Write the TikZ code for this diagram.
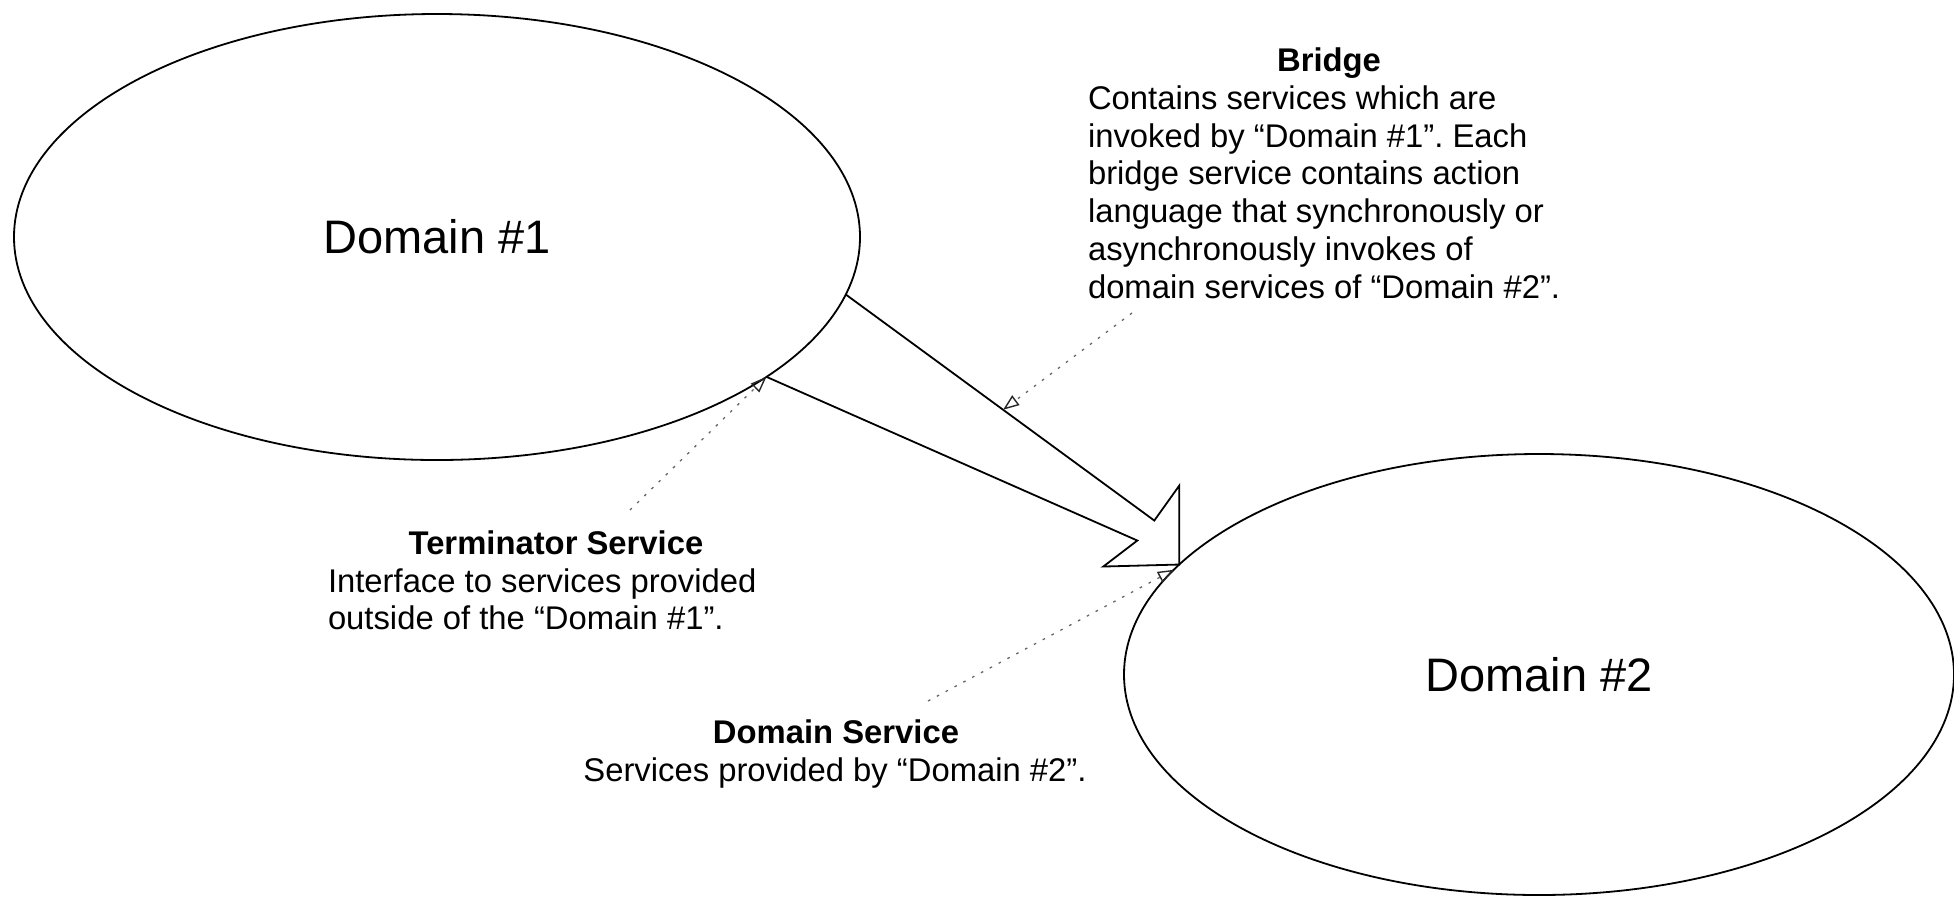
\documentclass[tikz,border=0pt]{standalone}
\usepackage{fontspec}
\setmainfont{Liberation Sans}
\usetikzlibrary{shapes.geometric,arrows.meta,calc}
\frenchspacing

\begin{document}
\begin{tikzpicture}[x=0.5pt,y=-0.5pt,
  domainbox/.style={ellipse, draw, line width=0.9pt, inner sep=0pt, outer sep=0pt,
    font=\fontsize{23.5}{28}\selectfont},
  note/.style={inner sep=0pt, outer sep=0pt, font=\fontsize{16.4}{19}\selectfont},
  notetitle/.style={inner sep=0pt, outer sep=0pt, font=\fontsize{16.4}{19}\selectfont\bfseries},
  hint/.style={draw=black!60, line width=0.65pt, dash pattern=on 1.3pt off 3.7pt,
    -{Triangle[open, length=8pt, width=6pt, color=black!85, line width=0.7pt]}},
  blockarrow/.style={draw, line width=0.9pt, line join=miter}
]
\useasboundingbox (0,0) rectangle (1954,896);

% the two domains
\node[domainbox, minimum width=423pt, minimum height=223pt] (d1) at (437,237) {Domain \#1};
\node[domainbox, minimum width=415pt, minimum height=220.5pt] (d2) at (1539,674.5) {Domain \#2};

% wide arrow from Domain #1 to Domain #2
\coordinate (s1) at (d1.-8.96);
\coordinate (s2) at (d1.-23.47);
\coordinate (tip) at (d2.163.35);
\coordinate (n1) at ($(tip)+(-25,-44)$);
\coordinate (h1) at ($(tip)+(0,-79)$);
\coordinate (h2) at ($(tip)+(-76,2)$);
\coordinate (n2) at ($(tip)+(-42,-24)$);
\draw[blockarrow] (s1) -- (n1) -- (h1) -- (tip) -- (h2) -- (n2) -- (s2);

% Bridge note
\node[notetitle, anchor=base] (bridgetitle) at (1329,71) {Bridge};
\node[note, anchor=base west] (bridge1) at (1088,109) {Contains services which are};
\node[note, anchor=base west] (bridge2) at (1088,147) {invoked by “Domain \#1”. Each};
\node[note, anchor=base west] (bridge3) at (1088,184) {bridge service contains action};
\node[note, anchor=base west] (bridge4) at (1088,222) {language that synchronously or};
\node[note, anchor=base west] (bridge5) at (1088,260) {asynchronously invokes of};
\node[note, anchor=base west] (bridge6) at (1088,298) {domain services of “Domain \#2”.};

% Terminator Service note
\node[notetitle, anchor=base] (termtitle) at (556,554) {Terminator Service};
\node[note, anchor=base west] (term1) at (328,592) {Interface to services provided};
\node[note, anchor=base west] (term2) at (328,629) {outside of the “Domain \#1”.};

% Domain Service note
\node[notetitle, anchor=base] (domtitle) at (836,743) {Domain Service};
\node[note, anchor=base] (dom1) at (835,781) {Services provided by “Domain \#2”.};

% dotted pointers from the notes
\coordinate (bridgetail) at (1132,313);
\coordinate (termtail) at (630,510);
\coordinate (domtail) at (928,701);
\draw[hint] (bridgetail) -- ($(s1)!0.51!(n1)$);
\draw[hint] (termtail) -- (s2);
\draw[hint] (domtail) -- (d2.164.2);
\end{tikzpicture}
\end{document}
